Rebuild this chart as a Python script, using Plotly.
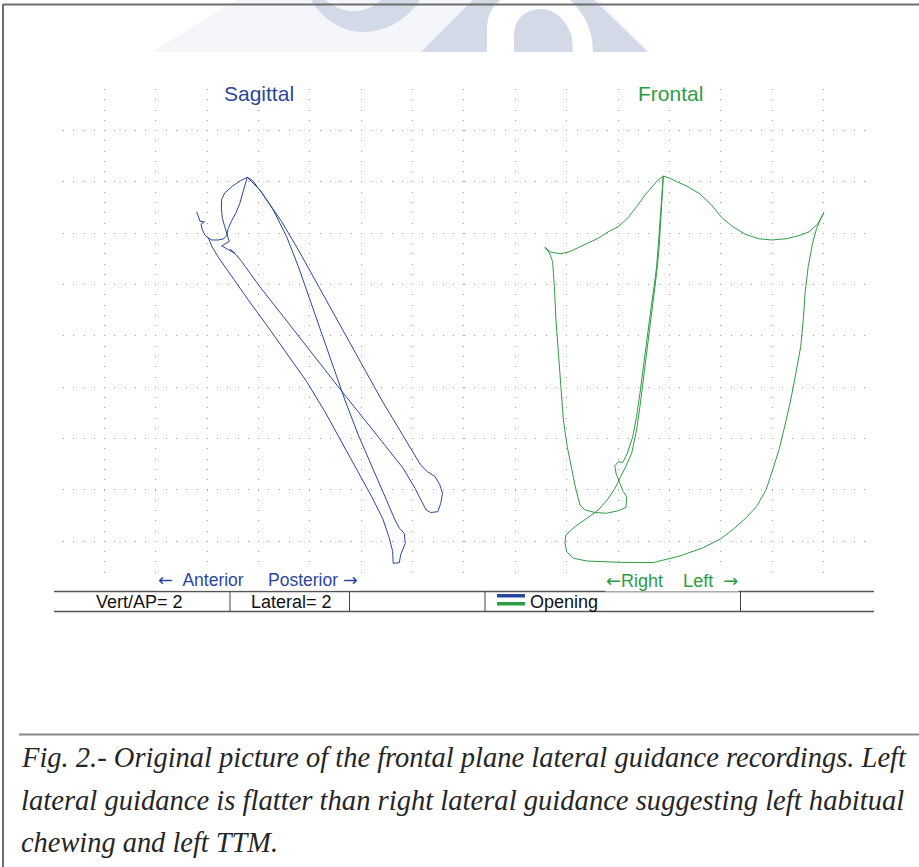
import plotly.graph_objects as go

# ---------------------------------------------------------------------------
# Jaw-tracking recording, millimetres relative to the intercuspal position.
# Sagittal plane: x = anterior(-)/posterior(+), y = vertical (opening < 0)
# ---------------------------------------------------------------------------
sag_x = [-1.97, -1.91, -1.84, -1.67, -1.80, -1.75, -1.64, -1.52,
         -1.39, -1.13, -0.61, 0.04, 0.75, 1.53, 2.31, 3.02, 3.67, 4.32, 4.84, 5.27,
         5.53, 5.66, 5.68, 5.92, 5.97, 6.15, 6.11, 5.92, 5.75,
         5.36, 4.84, 4.32, 3.80, 3.35, 2.89, 2.44, 1.99, 1.53, 1.01, 0.49, 0.10, 0.00,
         -0.26, -0.57, -0.87, -1.00, -1.01, -0.97, -0.88, -0.80, -0.70,
         -1.00, -0.48, -0.67, -0.44,
         -0.22, 0.49, 1.40, 2.31, 3.22, 3.74, 4.52, 5.29, 6.07, 6.53, 6.79, 6.96,
         7.14, 7.42, 7.53, 7.60, 7.50, 7.31, 7.01, 6.75, 6.49,
         5.88, 5.23, 4.58, 3.93, 3.28, 2.63, 1.99, 1.34, 0.69, 0.21, 0.00,
         -0.09, -0.18, -0.29, -0.44, -0.61, -0.74, -0.80, -0.91, -1.13, -1.39, -1.56]
sag_y = [-1.34, -1.51, -1.71, -1.74, -1.82, -2.05, -2.26, -2.35,
         -2.67, -3.11, -3.87, -4.78, -5.75, -6.85, -7.95, -9.12, -10.29, -11.46, -12.43, -13.28,
         -14.05, -14.57, -15.03, -15.00, -14.70, -14.25, -13.86, -13.66, -13.34,
         -12.43, -11.20, -10.03, -8.67, -7.37, -6.07, -4.78, -3.48, -2.31, -1.27, -0.49, -0.08, 0.00,
         -0.13, -0.34, -0.60, -0.86, -1.21, -1.60, -1.92, -2.21, -2.50,
         -2.67, -2.96, -2.80, -3.01,
         -3.28, -4.26, -5.42, -6.59, -7.76, -8.41, -9.38, -10.36, -11.33, -12.11, -12.63, -12.95,
         -13.05, -13.02, -12.69, -12.30, -11.98, -11.65, -11.46, -11.20, -10.77,
         -9.77, -8.67, -7.50, -6.33, -5.16, -4.00, -2.83, -1.73, -0.78, -0.13, 0.00,
         -0.30, -0.62, -1.01, -1.38, -1.69, -1.99, -2.25, -2.39, -2.44, -2.44, -2.34]

# Frontal plane: x = right(-)/left(+), y = vertical (opening < 0)
front_x = [0.00, 0.26, 0.52, 0.91, 1.43, 1.88, 2.27, 2.66, 3.18, 3.70, 4.22, 4.80, 5.32, 5.68,
           6.01, 6.16, 6.25,
           6.14, 5.97, 5.81, 5.64, 5.52, 5.45, 5.35, 5.16, 4.96, 4.74, 4.52, 4.26, 4.00, 3.63,
           3.24, 2.73, 2.21, 1.56, 0.65, -0.39, -1.69, -2.98, -3.50, -3.76, -3.83, -3.79,
           -3.44, -2.98, -2.53, -2.18, -1.88, -1.66, -1.45, -1.23, -1.04, -0.91, -0.78, -0.65,
           -0.52, -0.39, -0.26, -0.16, -0.10, -0.06, -0.03, 0.00,
           -0.23, -0.45, -0.71, -1.04, -1.36, -1.75, -2.14, -2.53, -2.98, -3.31, -3.63, -4.02,
           -4.39, -4.61,
           -4.44, -4.31, -4.24, -4.18, -4.09, -4.00, -3.89, -3.74, -3.57, -3.40, -3.24, -3.05,
           -2.66, -2.21, -1.75, -1.45, -1.43, -1.56, -1.69, -1.84, -1.89, -1.75, -1.58,
           -1.40, -1.19, -1.04, -0.91, -0.78, -0.67, -0.57, -0.47, -0.36, -0.26, -0.19, -0.13,
           -0.08, 0.00]
front_y = [0.05, -0.04, -0.17, -0.34, -0.65, -1.08, -1.56, -1.89, -2.21, -2.39, -2.44, -2.39,
           -2.26, -2.12, -1.82, -1.53, -1.38,
           -1.60, -1.99, -2.57, -3.48, -4.52, -5.55, -6.59, -7.63, -8.67, -9.64, -10.55, -11.39,
           -12.17, -12.82, -13.24, -13.70, -14.09, -14.42, -14.74, -15.00, -14.99, -14.94,
           -14.83, -14.57, -14.25, -13.92,
           -13.60, -13.28, -12.95, -12.56, -12.11, -11.65, -11.24, -10.74, -9.84, -8.93, -7.89,
           -6.85, -5.81, -4.78, -3.74, -2.70, -1.66, -0.75, -0.10, 0.05,
           -0.13, -0.39, -0.69, -1.14, -1.56, -1.92, -2.12, -2.37, -2.57, -2.73, -2.89, -2.98,
           -2.91, -2.73,
           -2.93, -3.28, -4.26, -5.55, -6.85, -8.15, -9.45, -10.49, -11.39, -12.17, -12.76,
           -12.95, -13.05, -13.08, -12.98, -12.85, -12.43, -12.24, -11.91, -11.52, -11.24,
           -11.07, -11.11,
           -10.74, -10.10, -9.32, -8.41, -7.37, -6.59, -5.81, -5.04, -4.26, -3.48, -2.57,
           -1.66, -0.75, 0.05]

panel_titles = ["Sagittal", "Frontal"]
SP = "\u00a0"
LARR = '<span style="font-family:DejaVu Sans">\u2190</span>'
RARR = '<span style="font-family:DejaVu Sans">\u2192</span>'
sag_dir_label = f"{LARR}{SP * 2}Anterior{SP * 5}Posterior{SP}{RARR}"
front_dir_label = f"{LARR}Right{SP * 4}Left{SP * 2}{RARR}"
table_cells = ["Vert/AP= 2", "Lateral= 2"]
legend_label = "Opening"
caption_lines = [
    "Fig. 2.- Original picture of the frontal plane lateral guidance recordings. Left",
    "lateral guidance is flatter than right lateral guidance suggesting left habitual",
    "chewing and left TTM.",
]

# ---------------------------------------------------------------------------
# Page geometry (pixels)
# ---------------------------------------------------------------------------
W, H = 919, 867
PL, PR, PT, PB = 63, 866, 89, 581          # plot area
PX_PER_MM = 25.685                         # 2 mm per grid division
SAG_ORIGIN = (247.3, 177.3)
FRONT_ORIGIN_X = 663.3
GRID_X0, GRID_Y0 = 104.3, 130.3            # first grid column / row
DOT = 2 * PX_PER_MM / 5                    # dot pitch along grid lines

BLUE = "#2b479c"
GREEN = "#2f9c45"
WM = "#d3d9e7"


def fx(x):
    return (x - PL) / (PR - PL)


def fy(y):
    return (PB - y) / (PB - PT)


def path(cmds):
    out = []
    for c in cmds:
        op, pts = c[0], c[1:]
        coords = " ".join(f"{fx(pts[i]):.5f},{fy(pts[i + 1]):.5f}" for i in range(0, len(pts), 2))
        out.append(f"{op}{coords}")
    return " ".join(out)


x_range = [(PL - SAG_ORIGIN[0]) / PX_PER_MM, (PR - SAG_ORIGIN[0]) / PX_PER_MM]
x2_range = [(PL - FRONT_ORIGIN_X) / PX_PER_MM, (PR - FRONT_ORIGIN_X) / PX_PER_MM]
y_range = [-(PB - SAG_ORIGIN[1]) / PX_PER_MM, (SAG_ORIGIN[1] - PT) / PX_PER_MM]

fig = go.Figure()
fig.add_trace(go.Scatter(x=sag_x, y=sag_y, mode="lines", xaxis="x", yaxis="y",
                         line=dict(color=BLUE, width=1), hoverinfo="skip", showlegend=False))
fig.add_trace(go.Scatter(x=front_x, y=front_y, mode="lines", xaxis="x2", yaxis="y",
                         line=dict(color=GREEN, width=1), hoverinfo="skip", showlegend=False))

dots = f"1px,{DOT - 1:.2f}px"
fig.update_layout(
    width=W, height=H,
    margin=dict(l=PL, r=W - PR, t=PT, b=H - PB, pad=0),
    paper_bgcolor="white", plot_bgcolor="white",
    xaxis=dict(range=x_range, tick0=(GRID_X0 - SAG_ORIGIN[0]) / PX_PER_MM, dtick=2,
               showgrid=True, gridcolor="#a4a4a4", gridwidth=1, griddash=dots,
               zeroline=False, showticklabels=False, ticks="", showline=False, fixedrange=True),
    xaxis2=dict(range=x2_range, overlaying="x", visible=False, fixedrange=True),
    yaxis=dict(range=y_range, tick0=(SAG_ORIGIN[1] - GRID_Y0) / PX_PER_MM, dtick=2,
               showgrid=True, gridcolor="#a4a4a4", gridwidth=1, griddash=dots,
               zeroline=False, showticklabels=False, ticks="", showline=False, fixedrange=True),
)

shapes = []
# watermark logo, cropped at the top of the page
shapes.append(dict(type="path", xref="paper", yref="paper", line=dict(width=0), fillcolor="#f4f6f9",
                   path=path([("M", 152, 52), ("L", 236, 0), ("L", 600, 0), ("L", 648, 52)]) + " Z"))
shapes.append(dict(type="path", xref="paper", yref="paper", line=dict(width=0), fillcolor=WM,
                   path=path([("M", 311, 0), ("C", 325, 22, 345, 33, 366, 32), ("C", 388, 31, 408, 18, 420, 0),
                              ("L", 381, 0), ("C", 372, 9, 360, 12, 350, 11), ("C", 340, 10, 332, 6, 326, 0)]) + " Z"))
shapes.append(dict(type="path", xref="paper", yref="paper", line=dict(width=0), fillcolor=WM,
                   path=path([("M", 421, 52), ("L", 473, 0), ("L", 594, 0), ("L", 648, 52)]) + " Z"))
shapes.append(dict(type="path", xref="paper", yref="paper", line=dict(width=0), fillcolor="white",
                   path=path([("M", 487, 52), ("L", 487, 28), ("C", 487, 15, 493, 5, 501, 0), ("L", 570, 0),
                              ("C", 581, 10, 590, 25, 592, 40), ("L", 593, 52)]) + " Z"))
shapes.append(dict(type="path", xref="paper", yref="paper", line=dict(width=0), fillcolor=WM,
                   path=path([("M", 514, 52), ("L", 514, 35), ("C", 514, 18, 527, 9, 541, 9),
                              ("C", 556, 9, 568, 22, 572, 38), ("L", 573, 52)]) + " Z"))

# page frame
shapes.append(dict(type="line", xref="paper", yref="paper", x0=fx(3), x1=fx(W), y0=fy(4.5), y1=fy(4.5),
                   line=dict(color="#6e6e6e", width=2)))
shapes.append(dict(type="line", xref="paper", yref="paper", x0=fx(3), x1=fx(3), y0=fy(4), y1=fy(H),
                   line=dict(color="#6e6e6e", width=2)))

# status table under the plot
TBL_T, TBL_B, TBL_L, TBL_R = 591.5, 611.5, 54, 874
for yy in (TBL_T, TBL_B):
    shapes.append(dict(type="line", xref="paper", yref="paper", x0=fx(TBL_L), x1=fx(TBL_R),
                       y0=fy(yy), y1=fy(yy), line=dict(color="#555555", width=1.6)))
for xx in (230, 349.5, 485, 740.5):
    shapes.append(dict(type="line", xref="paper", yref="paper", x0=fx(xx), x1=fx(xx),
                       y0=fy(TBL_T), y1=fy(TBL_B), line=dict(color="#444444", width=1)))
# legend swatch: opening in both planes
shapes.append(dict(type="rect", xref="paper", yref="paper", x0=fx(497), x1=fx(525), y0=fy(594), y1=fy(597.5),
                   line=dict(width=0), fillcolor=BLUE))
shapes.append(dict(type="rect", xref="paper", yref="paper", x0=fx(497), x1=fx(525), y0=fy(602), y1=fy(605.5),
                   line=dict(width=0), fillcolor=GREEN))

# caption rule
shapes.append(dict(type="line", xref="paper", yref="paper", x0=fx(19), x1=fx(W), y0=fy(734.5), y1=fy(734.5),
                   line=dict(color="#8a8a8a", width=2)))
fig.update_layout(shapes=shapes)

SANS = "Liberation Sans, Arial, sans-serif"
SERIF = "Liberation Serif, Times New Roman, serif"


def label(text, x, y, size, color, family=SANS, anchor="center", bg=None):
    return dict(text=text, x=fx(x), y=fy(y), xref="paper", yref="paper", showarrow=False,
                xanchor=anchor, yanchor="middle", font=dict(family=family, size=size, color=color),
                bgcolor=bg, borderpad=0)


annotations = [
    label(panel_titles[0], 259, 93, 21, BLUE, bg="white"),
    label(panel_titles[1], 670.5, 93, 21, GREEN, bg="white"),
    label(sag_dir_label, 258, 580, 17.5, BLUE, bg="white"),
    label(front_dir_label, 672, 580, 18, GREEN, bg="white"),
    label(table_cells[0], 139, 602, 18, "#111111"),
    label(table_cells[1], 291, 602, 18, "#111111"),
    label(legend_label, 529, 602, 18, "#111111", anchor="left"),
]
caption_sizes = [28.5, 28.6, 28.4]
for i, (line, y) in enumerate(zip(caption_lines, (757, 800, 842))):
    annotations.append(label(f"<i>{line}</i>", 20, y, caption_sizes[i], "#262626", family=SERIF, anchor="left"))
fig.update_layout(annotations=annotations)

fig.write_html("out.html")
